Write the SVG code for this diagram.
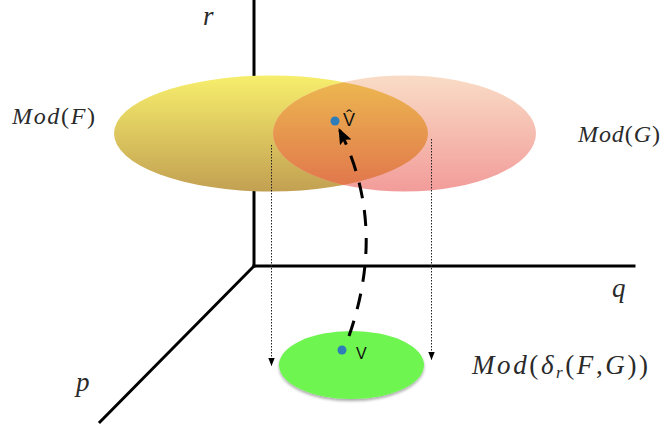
<svg xmlns="http://www.w3.org/2000/svg" width="665" height="431" viewBox="0 0 665 431">
<style>
.axis{stroke:#000;stroke-width:3;fill:none;stroke-linecap:square}
.dot{stroke:#222;stroke-width:1;stroke-dasharray:1.5 1.5;fill:none}
.math{font-family:"Liberation Serif",serif;font-size:24px;fill:#2a2a2a}
.big{font-size:27px}
.sub{font-size:17px}
.ax{font-family:"Liberation Serif",serif;font-size:27px;font-style:italic;fill:#2a2a2a}
.it{font-style:italic}
.lbl{font-family:"Liberation Sans",Arial,sans-serif;font-size:16px;fill:#111}
.hat{font-size:18px}
.pt{fill:#2E7DB9}
</style>
<defs>
<linearGradient id="gy" x1="0" y1="0" x2="0" y2="1">
<stop offset="0" stop-color="#F7EE6C"/><stop offset="1" stop-color="#C2A052"/>
</linearGradient>
<linearGradient id="gp" x1="0" y1="0" x2="0" y2="1">
<stop offset="0" stop-color="#F9DCC6"/><stop offset="1" stop-color="#F29C9A"/>
</linearGradient>
<linearGradient id="go" x1="0" y1="0" x2="0" y2="1">
<stop offset="0" stop-color="#EDBA50"/><stop offset="1" stop-color="#E0744C"/>
</linearGradient>
<clipPath id="cy"><ellipse cx="271" cy="133.5" rx="157" ry="58"/></clipPath>
<marker id="ah" viewBox="0 0 16 13" refX="15" refY="6.5" markerWidth="16" markerHeight="13" orient="auto" markerUnits="userSpaceOnUse">
<path d="M0,0 L16,6.5 L0,13 L3,6.5 z" fill="#000"/>
</marker>
<marker id="sa" viewBox="0 0 10 10" refX="10" refY="5" markerWidth="8" markerHeight="8" orient="auto" markerUnits="userSpaceOnUse">
<path d="M0,1 L10,5 L0,9 z" fill="#000"/>
</marker>
<filter id="sh" x="-10%" y="-10%" width="120%" height="130%">
<feGaussianBlur in="SourceAlpha" stdDeviation="1.5"/>
<feOffset dx="0" dy="2" result="b"/>
<feComponentTransfer><feFuncA type="linear" slope="0.35"/></feComponentTransfer>
<feMerge><feMergeNode/><feMergeNode in="SourceGraphic"/></feMerge>
</filter>
</defs>
<rect width="665" height="431" fill="#fff"/>

<g id="axes">
<line class="axis" x1="254" y1="0" x2="254" y2="266"/>
<line class="axis" x1="254" y1="266" x2="634" y2="266"/>
<line class="axis" x1="254" y1="266" x2="100" y2="422"/>
<text class="ax" x="203" y="25">r</text>
<text class="ax" x="612" y="297">q</text>
<text class="ax" x="76" y="391">p</text>
</g>

<g id="modF">
<ellipse cx="271" cy="133.5" rx="157" ry="58" fill="url(#gy)"/>
<text class="math" x="12" y="124" textLength="83" lengthAdjust="spacing"><tspan class="it">Mod</tspan>(<tspan class="it">F</tspan>)</text>
</g>
<g id="modG">
<ellipse cx="404.5" cy="133.5" rx="131.5" ry="58" fill="url(#gp)"/>
<ellipse cx="404.5" cy="133.5" rx="131.5" ry="58" fill="url(#go)" clip-path="url(#cy)"/>
<text class="math" x="578" y="142" textLength="82" lengthAdjust="spacing"><tspan class="it">Mod</tspan>(<tspan class="it">G</tspan>)</text>
</g>

<g id="modDelta">
<ellipse cx="351.5" cy="365" rx="72.5" ry="34" fill="#6EF550" filter="url(#sh)"/>
<text class="math big" x="472" y="374" textLength="176" lengthAdjust="spacing"><tspan class="it">Mod</tspan>(<tspan class="it">δ</tspan><tspan class="it sub" dy="4">r</tspan><tspan dy="-4">(</tspan><tspan class="it">F</tspan>,<tspan class="it">G</tspan>))</text>
</g>

<g id="vhat">
<circle class="pt" cx="335" cy="121" r="4.5"/>
<text class="lbl hat" x="343" y="126">V̂</text>
</g>
<g id="v">
<circle class="pt" cx="342" cy="350" r="4.5"/>
<text class="lbl" x="356" y="359">V</text>
</g>

<g id="connectors">
<line class="dot" x1="271.5" y1="145" x2="271.5" y2="366" marker-end="url(#sa)"/>
<line class="dot" x1="431.5" y1="139" x2="431.5" y2="360" marker-end="url(#sa)"/>
<path d="M349,336 C372,270 375,200 339,129" fill="none" stroke="#000" stroke-width="3" stroke-dasharray="16 12" marker-end="url(#ah)"/>
</g>
</svg>
